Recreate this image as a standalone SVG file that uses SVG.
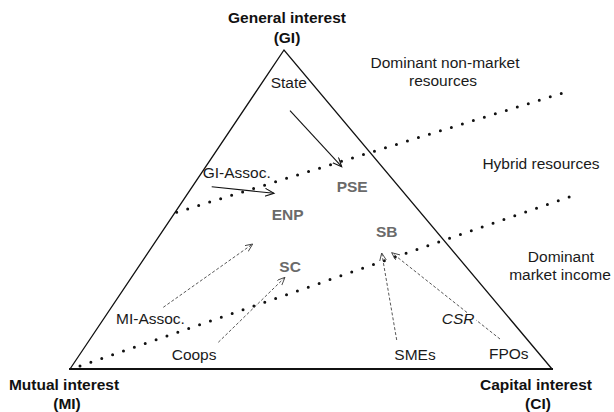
<svg xmlns="http://www.w3.org/2000/svg" width="614" height="412" viewBox="0 0 614 412">
<defs>
<style>
text{font-family:"Liberation Sans",Arial,sans-serif;font-size:15.5px;fill:#1a1a1a}
.b{font-weight:bold;fill:#111}
.g{font-weight:bold;fill:#6a6a6a}
.i{font-style:italic}
.m{text-anchor:middle}
.side{fill:none;stroke:#111;stroke-width:1.3}
.dots{fill:none;stroke:#111;stroke-width:3;stroke-linecap:round;stroke-dasharray:0 11.5}
.solid{fill:none;stroke:#111;stroke-width:1.1;marker-end:url(#ah)}
.dash{fill:none;stroke:#444;stroke-width:0.9;stroke-dasharray:3 2;marker-end:url(#ahd)}
</style>
<marker id="ah" markerUnits="userSpaceOnUse" markerWidth="12" markerHeight="10" refX="9" refY="4" orient="auto">
<path d="M0,0 L9,4 L0,8" fill="none" stroke="#111" stroke-width="1.1"/>
</marker>
<marker id="ahd" markerUnits="userSpaceOnUse" markerWidth="12" markerHeight="10" refX="8" refY="3.5" orient="auto">
<path d="M0,0 L8,3.5 L0,7" fill="none" stroke="#444" stroke-width="0.9"/>
</marker>
</defs>
<rect width="614" height="412" fill="#fff"/>

<g id="triangle">
<path class="side" d="M70,369 L284,50 L552,369"/>
<line x1="69" y1="369" x2="553" y2="369" stroke="#111" stroke-width="2"/>
</g>

<g id="connectors">
<path class="dots" d="M176.7,212.3 L561.7,93.3"/>
<path class="dots" d="M80,366 L570,196.7"/>
<path class="solid" d="M290,110.7 L341.7,166.7"/>
<path class="solid" d="M211.7,186.7 L274,193.3"/>
<path class="dash" d="M163.3,307.3 L252.7,244"/>
<path class="dash" d="M218.3,342.3 L285,277.3"/>
<path class="dash" d="M396.7,340 L381.7,253"/>
<path class="dash" d="M500,339 L476,320 M467,312.5 L391.7,252.7"/>
</g>

<g id="corner-gi"><text class="b m" x="287" y="23">General interest</text><text class="b m" x="287" y="43">(GI)</text></g>
<g id="corner-mi"><text class="b m" x="64" y="390">Mutual interest</text><text class="b m" x="67" y="409">(MI)</text></g>
<g id="corner-ci"><text class="b m" x="536" y="390">Capital interest</text><text class="b m" x="538" y="409">(CI)</text></g>

<g id="zone-nonmarket"><text class="m" x="445" y="68">Dominant non-market</text><text class="m" x="443" y="86">resources</text></g>
<g id="zone-hybrid"><text class="m" x="541" y="169">Hybrid resources</text></g>
<g id="zone-market"><text class="m" x="561" y="262">Dominant</text><text class="m" x="560" y="280">market income</text></g>

<g id="state"><text x="270.7" y="88">State</text></g>
<g id="gi-assoc"><text x="202.7" y="178">GI-Assoc.</text></g>
<g id="pse"><text class="g" x="336.7" y="192">PSE</text></g>
<g id="enp"><text class="g" x="271.7" y="220">ENP</text></g>
<g id="sb"><text class="g" x="376" y="237">SB</text></g>
<g id="sc"><text class="g" x="279.3" y="272">SC</text></g>
<g id="mi-assoc"><text x="116" y="324">MI-Assoc.</text></g>
<g id="coops"><text x="171.7" y="360">Coops</text></g>
<g id="smes"><text x="394.3" y="360">SMEs</text></g>
<g id="csr"><text class="i" x="441.7" y="324">CSR</text></g>
<g id="fpos"><text x="489" y="359">FPOs</text></g>
</svg>
